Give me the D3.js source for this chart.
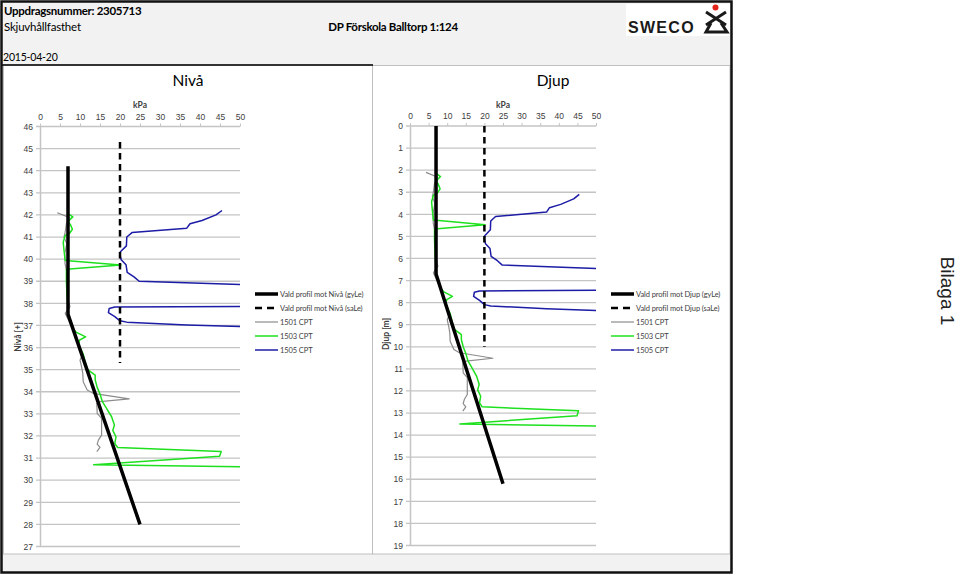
<!DOCTYPE html>
<html><head><meta charset="utf-8">
<script src="https://cdn.jsdelivr.net/npm/d3@7/dist/d3.min.js"></script>
<style>
body{margin:0;background:#fff;}
svg{display:block;font-family:Lato,"Open Sans",sans-serif;}
</style></head><body><svg id="c" width="960" height="575"></svg>
<script>
// ---------- DATA ----------
const kpaTicks = [0, 5, 10, 15, 20, 25, 30, 35, 40, 45, 50];
const levelTicks = [46, 45, 44, 43, 42, 41, 40, 39, 38, 37, 36, 35, 34, 33, 32, 31, 30, 29, 28, 27];
const depthTicks = [0, 1, 2, 3, 4, 5, 6, 7, 8, 9, 10, 11, 12, 13, 14, 15, 16, 17, 18, 19];

// ground levels (Nivå = ground level - depth)
const groundGyLe = 44.2, groundSaLe = 45.3, ground1501 = 44.2, ground1503 = 44.2, ground1505 = 45.3;

// Selected profile, gyLe
const gyLeDepth = [0, 6.7, 16.2];
const gyLeKpa   = [7, 7, 25];
// Selected profile, saLe
const saLeDepth = [0, 10];
const saLeKpa   = [20, 20];

// 1501 CPT
const cpt1501Depth = [2.1, 2.31, 2.6, 3.03, 3.2, 3.5, 3.94, 4.4, 4.77, 5.15, 6.1, 6.35, 6.65, 6.95, 7.26, 7.6, 7.86, 8.24, 8.62, 8.77, 9.07, 9.37, 9.75, 10.12, 10.27, 10.52, 10.65, 10.73, 11.18, 11.4, 11.78, 12.16, 12.39, 12.57, 12.72, 12.91];
const cpt1501Kpa   = [4.3, 7.3, 6.6, 6.25, 6.0, 6.7, 6.2, 6.25, 6.7, 7.1, 7.1, 7.5, 6.3, 7.1, 7.9, 8.75, 9.2, 10.0, 10.4, 10.0, 10.4, 10.7, 10.8, 11.8, 13.3, 22.3, 15.0, 14.2, 14.3, 15.4, 15.4, 15.4, 14.6, 14.3, 15.0, 14.2];

// 1503 CPT
const cpt1503Depth = [2.14, 2.29, 2.49, 2.64, 2.85, 3.05, 3.13, 3.43, 3.8, 4.26, 4.47, 4.66, 5.2, 6.0, 6.8, 7.3, 7.5, 7.72, 7.86, 8.05, 8.5, 8.85, 9.2, 9.45, 9.67, 10.0, 10.3, 10.65, 10.88, 11.33, 11.7, 11.95, 12.24, 12.54, 12.72, 12.9, 13.12, 13.5, 13.6];
const cpt1503Kpa   = [7.0, 8.2, 7.0, 7.6, 8.1, 7.3, 6.3, 5.8, 6.0, 6.3, 20.2, 6.6, 6.6, 6.8, 7.2, 8.0, 9.0, 11.4, 9.9, 9.6, 10.8, 11.3, 11.9, 13.8, 13.8, 14.3, 15.0, 15.6, 16.4, 17.9, 18.6, 18.2, 19.0, 18.7, 19.4, 45.3, 44.9, 13.4, 55];

// 1505 CPT
const cpt1505Depth = [3.1, 3.3, 3.55, 3.7, 3.9, 4.1, 4.3, 4.7, 4.97, 5.12, 5.33, 5.55, 5.9, 6.1, 6.3, 6.48, 7.44, 7.47, 7.53, 7.72, 7.9, 8.09, 8.15, 8.28, 8.38];
const cpt1505Kpa   = [45.5, 44, 40.5, 37.5, 36.7, 23, 21.7, 21.6, 20.1, 20, 20.3, 21.5, 21.8, 23.5, 24.8, 55, 55, 18.7, 17.3, 17.1, 18.7, 20, 21.7, 36.7, 55];

const legendLeft  = ["Vald profil mot Nivå (gyLe)", "Vald profil mot Nivå (saLe)", "1501 CPT", "1503 CPT", "1505 CPT"];
const legendRight = ["Vald profil mot Djup (gyLe)", "Vald profil mot Djup (saLe)", "1501 CPT", "1503 CPT", "1505 CPT"];

// ---------- SERIES (data + style) ----------
const series = [
  {depth: gyLeDepth, kpa: gyLeKpa, ground: groundGyLe, color: "#000", width: 3.5, dash: null},
  {depth: saLeDepth, kpa: saLeKpa, ground: groundSaLe, color: "#000", width: 2.5, dash: "6.5,4.5"},
  {depth: cpt1501Depth, kpa: cpt1501Kpa, ground: ground1501, color: "#8c8c8c", width: 1.2, dash: null},
  {depth: cpt1503Depth, kpa: cpt1503Kpa, ground: ground1503, color: "#1ee01e", width: 1.5, dash: null},
  {depth: cpt1505Depth, kpa: cpt1505Kpa, ground: ground1505, color: "#1c1ca6", width: 1.5, dash: null}
];
const drawOrder = [2, 3, 4, 1, 0];

// ---------- FRAME ----------
const svg = d3.select("#c");
svg.append("rect").attr("width", 960).attr("height", 575).attr("fill", "#fff");
svg.append("rect").attr("x", 2).attr("y", 2).attr("width", 729).attr("height", 64).attr("fill", "#f2f2f2");
svg.append("rect").attr("x", 2).attr("y", 554).attr("width", 729).attr("height", 18).attr("fill", "#f2f2f2");
svg.append("rect").attr("x", 3.5).attr("y", 65.5).attr("width", 369).attr("height", 488.5).attr("fill", "#fff").attr("stroke", "#bfbfbf");
svg.append("rect").attr("x", 372.5).attr("y", 65.5).attr("width", 357.5).attr("height", 488.5).attr("fill", "#fff").attr("stroke", "#bfbfbf");
svg.append("line").attr("x1", 2).attr("x2", 373).attr("y1", 65).attr("y2", 65).attr("stroke", "#333").attr("stroke-width", 2);
svg.append("rect").attr("x", 1.5).attr("y", 1.5).attr("width", 730).attr("height", 571).attr("fill", "none").attr("stroke", "#111").attr("stroke-width", 2.5);

// header texts
svg.append("text").attr("x", 4).attr("y", 15).attr("font-size", 11.5).attr("letter-spacing", -0.3).attr("font-weight", "bold").attr("fill", "#000").text("Uppdragsnummer: 2305713");
svg.append("text").attr("x", 4).attr("y", 31).attr("font-size", 11.5).attr("letter-spacing", -0.2).attr("fill", "#000").text("Skjuvhållfasthet");
svg.append("text").attr("x", 393).attr("y", 31).attr("text-anchor", "middle").attr("font-size", 11.5).attr("letter-spacing", -0.3).attr("font-weight", "bold").attr("fill", "#000").text("DP Förskola Balltorp 1:124");
svg.append("text").attr("x", 3).attr("y", 61).attr("font-size", 10.5).attr("letter-spacing", -0.2).attr("fill", "#000").text("2015-04-20");

// logo
const logo = svg.append("g");
logo.append("rect").attr("x", 626).attr("y", 4).attr("width", 104).attr("height", 32).attr("fill", "#fff");
logo.append("text").attr("x", 628).attr("y", 33).attr("font-family", "'Liberation Sans',Arial,sans-serif").attr("font-size", 16).attr("font-weight", "bold").attr("letter-spacing", 1.3).attr("fill", "#1a1a1a").text("SWECO");
logo.append("circle").attr("cx", 715.5).attr("cy", 7.5).attr("r", 3).attr("fill", "#e2231a");
logo.append("path").attr("d", "M706,12 L726,25 M726,12 L706,25").attr("stroke", "#1a1a1a").attr("stroke-width", 3).attr("fill", "none");
logo.append("path").attr("d", "M711,23 L706,32 L727,32 L721,23").attr("stroke", "#1a1a1a").attr("stroke-width", 3).attr("fill", "none").attr("stroke-linejoin", "miter");

// Bilaga
svg.append("text").attr("transform", "translate(941,291) rotate(90)").attr("text-anchor", "middle").attr("font-family", "'Liberation Sans',Arial,sans-serif").attr("font-size", 19).attr("fill", "#222").text("Bilaga 1");

// ---------- PANELS ----------
function panel(opt) {
  const g = svg.append("g");
  const x = d3.scaleLinear().domain([0, 50]).range([opt.x0, opt.x1]);
  const y = d3.scaleLinear().domain(opt.yDomain).range([opt.y0, opt.y1]);
  const clipId = "clip" + opt.id;
  svg.append("clipPath").attr("id", clipId).append("rect")
    .attr("x", opt.x0).attr("y", opt.y0 - 2).attr("width", opt.x1 - opt.x0).attr("height", opt.y1 - opt.y0 + 4);

  // title
  g.append("text").attr("x", opt.titleX).attr("y", 86).attr("text-anchor", "middle").attr("font-size", 15.5).attr("fill", "#000").text(opt.title);
  g.append("text").attr("x", x(25)).attr("y", 108).attr("text-anchor", "middle").attr("font-size", 8.5).attr("font-weight", "bold").attr("fill", "#404040").text("kPa");

  // gridlines
  g.append("g").selectAll("line").data(opt.yTicks).join("line")
    .attr("x1", opt.x0 - 4).attr("x2", opt.x1).attr("y1", d => y(d)).attr("y2", d => y(d))
    .attr("stroke", "#c4c4c4").attr("stroke-width", 1.3);

  // x axis (top)
  const xa = g.append("g").attr("transform", `translate(0,${opt.y0})`)
    .call(d3.axisTop(x).tickValues(kpaTicks).tickSize(3).tickPadding(4));
  xa.select(".domain").remove();
  xa.selectAll("line").attr("stroke", "#c4c4c4");
  xa.selectAll("text").attr("font-size", 8.5).attr("fill", "#404040").attr("font-family", null);

  // y axis
  const ya = g.append("g").attr("transform", `translate(${opt.x0},0)`)
    .call(d3.axisLeft(y).tickValues(opt.yTicks).tickSize(0).tickPadding(7));
  ya.select(".domain").attr("stroke", "#c4c4c4").attr("stroke-width", 1.5);
  ya.selectAll("text").attr("font-size", 8.5).attr("fill", "#404040").attr("font-family", null);

  // axis title
  g.append("text").attr("transform", `translate(${opt.labelX},${opt.labelY}) rotate(-90)`)
    .attr("text-anchor", "middle").attr("font-size", 8.5).attr("font-weight", "bold").attr("fill", "#404040").text(opt.axisLabel);

  // lines
  const lg = g.append("g").attr("clip-path", `url(#${clipId})`);
  drawOrder.forEach(i => {
    const s = series[i];
    const pts = s.depth.map((d, k) => [s.kpa[k], opt.toY(d, s.ground)]);
    lg.append("path").datum(pts)
      .attr("d", d3.line().x(p => x(p[0])).y(p => y(p[1])))
      .attr("fill", "none").attr("stroke", s.color).attr("stroke-width", s.width)
      .attr("stroke-dasharray", s.dash).attr("stroke-linejoin", "round");
  });

  // legend
  const leg = g.append("g");
  opt.legend.forEach((name, i) => {
    const s = series[i];
    const yy = 294 + i * 14;
    leg.append("line").attr("x1", opt.legX).attr("x2", opt.legX + 23).attr("y1", yy).attr("y2", yy)
      .attr("stroke", s.color).attr("stroke-width", s.width)
      .attr("stroke-dasharray", s.dash ? "7,5" : null);
    leg.append("text").attr("x", opt.legX + 25).attr("y", yy + 3).attr("font-size", 7.5).attr("letter-spacing", -0.1).attr("fill", "#404040").text(name);
  });
}

panel({id: "L", x0: 40, x1: 240, y0: 126.5, y1: 546.5, yDomain: [46, 27], yTicks: levelTicks,
  toY: (d, ground) => ground - d, title: "Nivå", titleX: 188, axisLabel: "Nivå [+]", labelX: 21, labelY: 337,
  legend: legendLeft, legX: 255});
panel({id: "R", x0: 410, x1: 596, y0: 126, y1: 545.5, yDomain: [0, 19], yTicks: depthTicks,
  toY: (d) => d, title: "Djup", titleX: 553, axisLabel: "Djup [m]", labelX: 389, labelY: 334,
  legend: legendRight, legX: 611});
</script></body></html>
